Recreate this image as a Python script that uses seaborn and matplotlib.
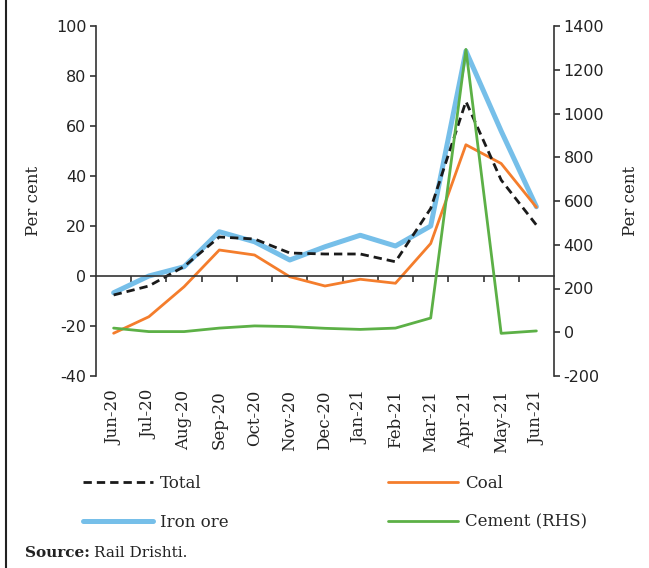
import numpy as np
import pandas as pd
import matplotlib
matplotlib.use("Agg")
import matplotlib.pyplot as plt
import seaborn as sns
from matplotlib.lines import Line2D
from matplotlib.transforms import blended_transform_factory

# monthly growth (per cent)
months = ["Jun-20", "Jul-20", "Aug-20", "Sep-20", "Oct-20", "Nov-20", "Dec-20",
          "Jan-21", "Feb-21", "Mar-21", "Apr-21", "May-21", "Jun-21"]
total = [-7.6, -4.0, 3.8, 15.6, 14.8, 9.2, 8.8, 8.8, 5.7, 27.0, 69.8, 38.4, 20.4]
coal = [-22.9, -16.3, -4.3, 10.4, 8.4, -0.3, -4.0, -1.3, -2.9, 13.0, 52.5, 45.0, 27.5]
iron_ore = [-6.7, 0.0, 3.7, 17.7, 13.7, 6.4, 11.7, 16.3, 12.0, 20.0, 90.0, 58.0, 27.7]
cement = [19, 3, 3, 19, 29, 26, 18, 13, 19, 65, 1293, -5, 6]

left_ticks = [-40, -20, 0, 20, 40, 60, 80, 100]
right_ticks = [-200, 0, 200, 400, 600, 800, 1000, 1200, 1400]

sns.set_style("ticks")
plt.rcParams["font.family"] = ["DejaVu Sans"]
plt.rcParams["axes.unicode_minus"] = False

serif = "DejaVu Serif"
c_total = "#1a1a1a"
c_coal = "#f47d2c"
c_iron = "#76bfe9"
c_cement = "#5cb046"

df = pd.DataFrame({"x": np.arange(len(months)), "total": total, "coal": coal,
                   "iron": iron_ore, "cement": cement})

fig = plt.figure(figsize=(6.49, 5.68), dpi=100)
ax = fig.add_axes([96 / 649, 1 - 376 / 568, (554 - 96) / 649, 350 / 568])
ax2 = ax.twinx()

sns.lineplot(data=df, x="x", y="iron", color=c_iron, lw=3.6, ax=ax)
sns.lineplot(data=df, x="x", y="coal", color=c_coal, lw=2, ax=ax)
sns.lineplot(data=df, x="x", y="total", color=c_total, lw=2, ax=ax,
             dashes=False, linestyle=(0, (3, 1.8)))
sns.lineplot(data=df, x="x", y="cement", color=c_cement, lw=2, ax=ax2)

ax.set_xlim(-0.5, len(months) - 0.5)
ax.set_ylim(-40, 100)
ax2.set_ylim(-200, 1400)
ax.set_yticks(left_ticks)
ax2.set_yticks(right_ticks)

# x axis drawn through zero, ticks between categories
for a in (ax, ax2):
    a.spines["top"].set_visible(False)
    a.spines["bottom"].set_visible(False)
    a.set_xlabel("")
ax.spines["bottom"].set_visible(True)
ax.spines["bottom"].set_position(("data", 0))
ax.spines["right"].set_visible(False)
ax2.spines["left"].set_visible(False)
for s in ["left", "bottom"]:
    ax.spines[s].set_color("#333333")
    ax.spines[s].set_linewidth(1.2)
ax2.spines["right"].set_color("#333333")
ax2.spines["right"].set_linewidth(1.2)

ax.set_xticks(np.arange(len(months) - 1) + 0.5)
ax.set_xticklabels([])
ax.tick_params(axis="x", direction="out", length=4, width=1.2, color="#333333")
ax.tick_params(axis="y", length=4, width=1.2, pad=3, labelsize=11.5,
               color="#333333", labelcolor="#222222")
ax2.tick_params(axis="y", length=4, width=1.2, pad=3, labelsize=11.5,
                color="#333333", labelcolor="#222222")

trans = blended_transform_factory(ax.transData, ax.transAxes)
for i, m in enumerate(months):
    ax.text(i, -0.04, m, transform=trans, rotation=90, ha="center", va="top",
            fontsize=12, family=serif, color="#222222")

ax.set_ylabel("Per cent", family=serif, fontsize=12, color="#222222", labelpad=10)
ax2.set_ylabel("Per cent", family=serif, fontsize=12, color="#222222", labelpad=13)

handles = [Line2D([], [], color=c_total, lw=2, linestyle=(0, (3, 1.8))),
           Line2D([], [], color=c_iron, lw=3.6),
           Line2D([], [], color=c_coal, lw=2),
           Line2D([], [], color=c_cement, lw=2)]
labels = ["Total", "Iron ore", "Coal", "Cement (RHS)"]
fig.legend(handles, labels, loc="upper left", bbox_to_anchor=(83 / 649, 1 - 475 / 568),
           ncol=2, frameon=False, prop={"family": serif, "size": 12},
           handlelength=4.2, handletextpad=0.4, columnspacing=9.6,
           labelspacing=1.3, borderpad=0, borderaxespad=0)

src = fig.text(25 / 649, 1 - 553 / 568, "Source:", family=serif, fontsize=11,
               fontweight="bold", va="center", ha="left", color="#222222")
fig.text(0, 0, "Rail Drishti.", family=serif, fontsize=11, va="center", ha="left",
         color="#222222", transform=matplotlib.transforms.offset_copy(
             fig.transFigure, fig=fig, x=0, y=0))
# place the source name right after the bold label
fig.canvas.draw()
bb = src.get_window_extent()
fig.texts[-1].set_position(((bb.x1 + 4) / fig.bbox.width, 1 - 553 / 568))

fig.add_artist(Line2D([5.5 / 649, 5.5 / 649], [0, 1], color="#222222", lw=1.5,
                      transform=fig.transFigure))

fig.savefig("out.png", dpi=100)
